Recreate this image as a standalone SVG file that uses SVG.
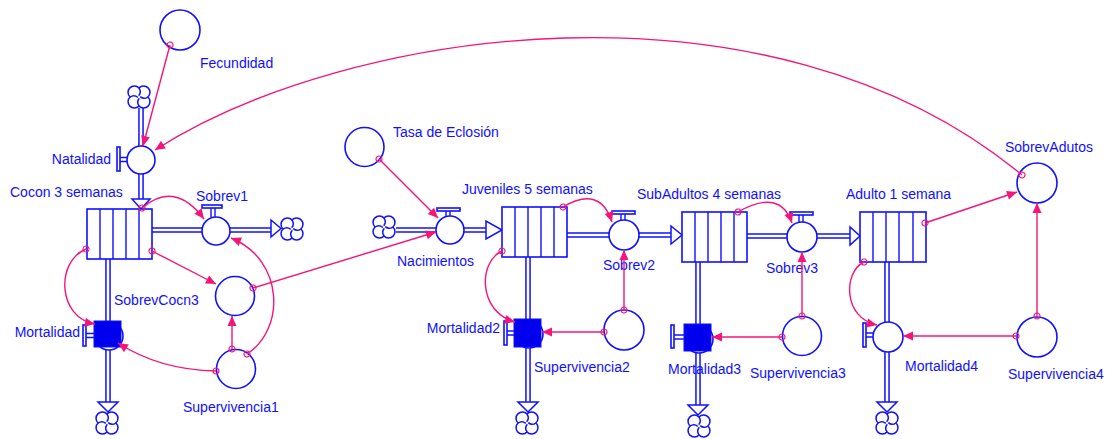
<svg xmlns="http://www.w3.org/2000/svg" width="1114" height="439" viewBox="0 0 1114 439">
<style>
.lbl{font-family:"Liberation Sans",Arial,sans-serif;font-size:14px;fill:#1010ff}
.nd{fill:#fff;stroke:#1010ff;stroke-width:1.6}
.st{fill:#fff;stroke:#1010ff;stroke-width:1.6}
.dv{stroke:#1010ff;stroke-width:1.4}
.po{fill:none;stroke:#1010ff;stroke-width:5.6}
.pi{fill:none;stroke:#fff;stroke-width:2.6}
.ah{fill:#fff;stroke:#1010ff;stroke-width:1.5;stroke-linejoin:miter}
.sq{fill:#0000ee;stroke:#1010ff;stroke-width:1}
.cn{fill:none;stroke:#f5147a;stroke-width:1.4;marker-start:url(#dot);marker-end:url(#arr)}
.cl{fill:#fff;stroke:#1010ff;stroke-width:1.5}
</style>
<defs>
<marker id="arr" viewBox="0 0 10 10" refX="10" refY="5" markerWidth="11" markerHeight="10" markerUnits="userSpaceOnUse" orient="auto">
<path d="M0,0.5 L10,5 L0,9.5 Z" fill="#f5147a"/>
</marker>
<marker id="dot" viewBox="-4 -4 8 8" refX="0" refY="0" markerWidth="8" markerHeight="8" markerUnits="userSpaceOnUse" orient="auto">
<circle r="3" fill="none" stroke="#f5147a" stroke-width="1.2"/>
</marker>
<g id="cloud">
<path class="cl" d="M8.9,0 A6.3,6.3 0 1 1 0,8.9 A6.3,6.3 0 1 1 -8.9,0 A6.3,6.3 0 1 1 0,-8.9 A6.3,6.3 0 1 1 8.9,0 Z"/>
<path fill="none" stroke="#1010ff" stroke-width="1.5" d="M0,8.9 A6.3,6.3 0 0 1 0.3,1.2 M-8.9,0 A6.3,6.3 0 0 1 -1.2,0.3 M0,-8.9 A6.3,6.3 0 0 1 -0.3,-1.2 M8.9,0 A6.3,6.3 0 0 1 1.2,-0.3"/>
</g>
</defs>
<rect width="1114" height="439" fill="#fff"/>

<g id="flows">
<path class="po" d="M141,108 V199 M152,230 H271 M108,259 V402 M396,230 H486 M567,235 H671 M528,257 V402 M747,236 H850 M698,262 V405 M887,262 V402"/>
<path class="pi" d="M141,108 V201 M150,230 H273 M108,257 V404 M396,230 H488 M565,235 H673 M528,255 V404 M745,236 H852 M698,260 V407 M887,260 V404"/>
<polygon class="ah" points="132,199 150,199 141,209"/>
<polygon class="ah" points="271,220 271,237 281,228.5"/>
<polygon class="ah" points="98,402 118,402 108,412"/>
<polygon class="ah" points="486,221 486,239 502,230"/>
<polygon class="ah" points="671,226 671,244 682,235"/>
<polygon class="ah" points="518,402 538,402 528,412"/>
<polygon class="ah" points="850,227 850,245 860,236"/>
<polygon class="ah" points="688,405 708,405 698,415"/>
<polygon class="ah" points="877,402 897,402 887,412"/>
</g>

<g id="cloud-natalidad"><use href="#cloud" x="139" y="97"/></g>
<g id="cloud-sobrev1"><use href="#cloud" x="292" y="229"/></g>
<g id="cloud-mortalidad"><use href="#cloud" x="107" y="423"/></g>
<g id="cloud-nacimientos"><use href="#cloud" x="384" y="227"/></g>
<g id="cloud-mortalidad2"><use href="#cloud" x="527" y="423"/></g>
<g id="cloud-mortalidad3"><use href="#cloud" x="699" y="426"/></g>
<g id="cloud-mortalidad4"><use href="#cloud" x="887" y="423"/></g>

<g id="fecundidad">
<circle class="nd" cx="180" cy="30" r="20"/>
<text class="lbl" x="200" y="68">Fecundidad</text>
</g>
<g id="natalidad">
<rect class="nd" x="117" y="147" width="3" height="24"/>
<path class="dv" d="M120,157.5 H128 M120,161.5 H128"/>
<circle class="nd" cx="141" cy="160" r="14"/>
<text class="lbl" x="111" y="164" text-anchor="end">Natalidad</text>
</g>
<g id="cocon">
<rect class="st" x="87" y="209" width="65" height="50"/>
<path class="dv" d="M100,209 V259 M113,209 V259 M126,209 V259 M139,209 V259"/>
<text class="lbl" x="10" y="197">Cocon 3 semanas</text>
</g>
<g id="sobrev1">
<rect class="nd" x="202" y="205" width="20" height="3"/>
<path class="dv" d="M211,208 V217 M215,208 V217"/>
<circle class="nd" cx="216" cy="231" r="14"/>
<text class="lbl" x="196" y="201">Sobrev1</text>
</g>
<g id="mortalidad">
<rect class="nd" x="83" y="325" width="3" height="21"/>
<path class="dv" d="M86,333.5 H94 M86,337.5 H94"/>
<circle class="nd" cx="109" cy="336" r="14"/>
<rect class="sq" x="94" y="321" width="27" height="26"/>
<text class="lbl" x="80" y="337" text-anchor="end">Mortalidad</text>
</g>
<g id="sobrevcocn3">
<circle class="nd" cx="235" cy="296" r="19.5"/>
<text class="lbl" x="114" y="305">SobrevCocn3</text>
</g>
<g id="supervivencia1">
<circle class="nd" cx="236" cy="369" r="19.5"/>
<text class="lbl" x="183" y="412">Supervivencia1</text>
</g>
<g id="tasa-eclosion">
<circle class="nd" cx="364.5" cy="147" r="19.5"/>
<text class="lbl" x="393" y="137">Tasa de Eclosión</text>
</g>
<g id="nacimientos">
<rect class="nd" x="437" y="208" width="23" height="3"/>
<path class="dv" d="M446,211 V217 M450,211 V217"/>
<circle class="nd" cx="450" cy="230" r="14"/>
<text class="lbl" x="397" y="266">Nacimientos</text>
</g>
<g id="juveniles">
<rect class="st" x="502" y="207" width="65" height="50"/>
<path class="dv" d="M515,207 V257 M528,207 V257 M541,207 V257 M554,207 V257"/>
<text class="lbl" x="462" y="194">Juveniles 5 semanas</text>
</g>
<g id="sobrev2">
<rect class="nd" x="612" y="211" width="23" height="3"/>
<path class="dv" d="M621,214 V221 M625,214 V221"/>
<circle class="nd" cx="624" cy="235" r="15"/>
<text class="lbl" x="603" y="270">Sobrev2</text>
</g>
<g id="mortalidad2">
<rect class="nd" x="504" y="321" width="3" height="24"/>
<path class="dv" d="M507,331 H514 M507,335 H514"/>
<circle class="nd" cx="529" cy="334" r="14"/>
<rect class="sq" x="514" y="319" width="27" height="28"/>
<text class="lbl" x="500" y="333" text-anchor="end">Mortalidad2</text>
</g>
<g id="supervivencia2">
<circle class="nd" cx="624" cy="330" r="20"/>
<text class="lbl" x="534" y="372">Supervivencia2</text>
</g>
<g id="subadultos">
<rect class="st" x="682" y="212" width="65" height="50"/>
<path class="dv" d="M695,212 V262 M708,212 V262 M721,212 V262 M734,212 V262"/>
<text class="lbl" x="637" y="199">SubAdultos 4 semanas</text>
</g>
<g id="sobrev3">
<rect class="nd" x="790" y="212" width="23" height="3"/>
<path class="dv" d="M799,215 V222 M803,215 V222"/>
<circle class="nd" cx="802" cy="237" r="15"/>
<text class="lbl" x="766" y="273">Sobrev3</text>
</g>
<g id="mortalidad3">
<rect class="nd" x="671" y="325" width="3" height="23"/>
<path class="dv" d="M674,335 H684 M674,339 H684"/>
<circle class="nd" cx="699" cy="339" r="14"/>
<rect class="sq" x="684" y="324" width="27" height="27"/>
<text class="lbl" x="668" y="374">Mortalidad3</text>
</g>
<g id="supervivencia3">
<circle class="nd" cx="802" cy="336" r="19.5"/>
<text class="lbl" x="750" y="378">Supervivencia3</text>
</g>
<g id="adulto">
<rect class="st" x="860" y="212" width="66" height="50"/>
<path class="dv" d="M873,212 V262 M886,212 V262 M899,212 V262 M913,212 V262"/>
<text class="lbl" x="846" y="199">Adulto 1 semana</text>
</g>
<g id="mortalidad4">
<rect class="nd" x="863" y="323" width="3" height="24"/>
<path class="dv" d="M866,333 H874 M866,337 H874"/>
<circle class="nd" cx="888" cy="337" r="15"/>
<text class="lbl" x="905" y="371">Mortalidad4</text>
</g>
<g id="sobrevadutos">
<circle class="nd" cx="1037" cy="183" r="20"/>
<text class="lbl" x="1005" y="152">SobrevAdutos</text>
</g>
<g id="supervivencia4">
<circle class="nd" cx="1037" cy="337" r="20"/>
<text class="lbl" x="1008" y="379">Supervivencia4</text>
</g>

<g id="connectors">
<path class="cn" d="M170,45 L143,146"/>
<path class="cn" d="M1022,175 C769,-35 345,28 155,150"/>
<path class="cn" d="M142,208 Q175,180 204,219"/>
<path class="cn" d="M86,249 C55,262 58,318 95,324"/>
<path class="cn" d="M152,251 L216,284"/>
<path class="cn" d="M232,349 L232,316"/>
<path class="cn" d="M247,354 C285,330 285,260 231,238"/>
<path class="cn" d="M216,371 Q160,370 118,343"/>
<path class="cn" d="M253,288 L436,232"/>
<path class="cn" d="M379,159 L438,218"/>
<path class="cn" d="M563,207 Q600,185 612,222"/>
<path class="cn" d="M502,251 C478,262 478,312 515,322"/>
<path class="cn" d="M624,310 L624,250"/>
<path class="cn" d="M604,332 L542,332"/>
<path class="cn" d="M738,212 Q780,188 792,223"/>
<path class="cn" d="M802,316 L802,252"/>
<path class="cn" d="M782,337 L712,337"/>
<path class="cn" d="M925,223 L1017,192"/>
<path class="cn" d="M1037,316 L1037,203"/>
<path class="cn" d="M1016,336 L903,336"/>
<path class="cn" d="M864,262 C843,272 843,318 877,325"/>
</g>
</svg>
